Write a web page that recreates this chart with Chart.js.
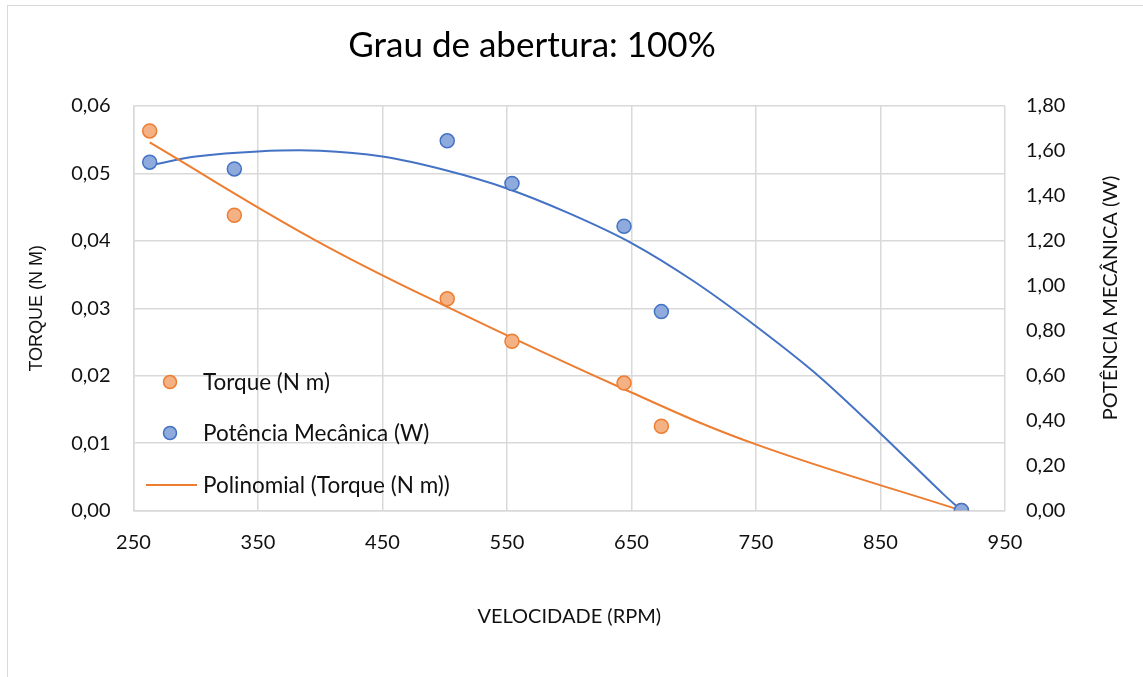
<!DOCTYPE html>
<html>
<head>
<meta charset="utf-8">
<script src="https://cdn.jsdelivr.net/npm/chart.js@4.4.1/dist/chart.umd.min.js"></script>
<style>
  html, body { margin: 0; padding: 0; background: #fff; overflow: hidden; }
  #frame { position: absolute; left: 7px; top: 5px; width: 1200px; height: 700px; border: 1px solid #d9d9d9; }
  #wrap { position: absolute; left: 0; top: 0; width: 1143px; height: 677px; }
</style>
</head>
<body>
<div id="frame"></div>
<div id="wrap"><canvas id="chart" width="1143" height="677"></canvas></div>
<script>
// measured points
const velocity = [263, 331, 502, 554, 644, 674, 915];
const torque = [0.0563, 0.0438, 0.0314, 0.0251, 0.0189, 0.0125, 0];
const power = [1.55, 1.52, 1.645, 1.455, 1.265, 0.885, 0];

// trend lines
const torqueFitX = [263, 394, 502, 650, 750, 915];
const torqueFitY = [0.0546, 0.0403, 0.0302, 0.0175, 0.0098, 0];
const powerFitX = [263, 300, 350, 400, 450, 500, 550, 600, 650, 700, 750, 800, 850, 900, 915];
const powerFitY = [1.536, 1.575, 1.598, 1.601, 1.575, 1.515, 1.433, 1.322, 1.19, 1.02, 0.82, 0.60, 0.343, 0.075, 0];

const leftTicks = [0, 0.01, 0.02, 0.03, 0.04, 0.05, 0.06];
const rightTicks = [0, 0.2, 0.4, 0.6, 0.8, 1.0, 1.2, 1.4, 1.6, 1.8];

const chartTitle = 'Grau de abertura: 100%';
const rightTitle = 'POTÊNCIA MECÂNICA (W)';

const FONT = "Lato, 'Open Sans', sans-serif";
const comma = v => Number(v).toFixed(2).replace('.', ',');
const pts = (xs, ys) => xs.map((x, i) => ({ x: x, y: ys[i] }));

// title, legend inside the plot, right axis title (reads bottom to top)
const extras = {
    id: 'extras',
    afterDraw(chart) {
        const ctx = chart.ctx;
        const ds = chart.data.datasets;
        ctx.save();
        ctx.fillStyle = '#000';
        ctx.textAlign = 'center';
        ctx.textBaseline = 'middle';
        ctx.font = "35px " + FONT;
        ctx.fillText(chartTitle, 532, 46);

        ctx.font = "22.5px " + FONT;
        const items = [
            { d: ds[0], y: 382, type: 'dot' },
            { d: ds[1], y: 433, type: 'dot' },
            { d: ds[2], y: 485, type: 'line' }
        ];
        items.forEach(it => {
            if (it.type === 'dot') {
                ctx.beginPath();
                ctx.arc(170, it.y, 6.5, 0, Math.PI * 2);
                ctx.fillStyle = it.d.backgroundColor;
                ctx.fill();
                ctx.lineWidth = 1.5;
                ctx.strokeStyle = it.d.borderColor;
                ctx.stroke();
            } else {
                ctx.beginPath();
                ctx.moveTo(146, it.y);
                ctx.lineTo(197, it.y);
                ctx.lineWidth = 2;
                ctx.strokeStyle = it.d.borderColor;
                ctx.stroke();
            }
            ctx.fillStyle = '#111';
            ctx.textAlign = 'left';
            ctx.fillText(it.d.label, 203, it.y + 1);
        });

        ctx.translate(1111, 298);
        ctx.rotate(-Math.PI / 2);
        ctx.textAlign = 'center';
        ctx.font = "20px " + FONT;
        ctx.fillText(rightTitle, 0, 0);
        ctx.restore();
    }
};

new Chart(document.getElementById('chart'), {
    type: 'scatter',
    data: {
        datasets: [
            {
                label: 'Torque (N m)',
                data: pts(velocity, torque),
                yAxisID: 'y',
                backgroundColor: '#F4B183',
                borderColor: '#ED7D31',
                borderWidth: 1.5,
                pointRadius: 7,
                order: 1
            },
            {
                label: 'Potência Mecânica (W)',
                data: pts(velocity, power),
                yAxisID: 'y1',
                backgroundColor: '#8FAADC',
                borderColor: '#4472C4',
                borderWidth: 1.5,
                pointRadius: 7,
                order: 0
            },
            {
                label: 'Polinomial (Torque (N m))',
                type: 'line',
                data: pts(torqueFitX, torqueFitY),
                yAxisID: 'y',
                borderColor: '#ED7D31',
                backgroundColor: '#ED7D31',
                borderWidth: 2,
                pointRadius: 0,
                tension: 0.4,
                fill: false,
                order: 2
            },
            {
                label: 'Polinomial (Potência Mecânica (W))',
                type: 'line',
                data: pts(powerFitX, powerFitY),
                yAxisID: 'y1',
                borderColor: '#4472C4',
                backgroundColor: '#4472C4',
                borderWidth: 2,
                pointRadius: 0,
                tension: 0.3,
                fill: false,
                order: 3
            }
        ]
    },
    options: {
        responsive: false,
        animation: false,
        layout: { padding: { top: 106, left: 0, right: 0, bottom: 0 } },
        plugins: {
            legend: { display: false },
            tooltip: { enabled: false },
            title: { display: false }
        },
        scales: {
            x: {
                type: 'linear',
                min: 250,
                max: 950,
                afterFit: s => { s.height = 166.5; },
                ticks: { stepSize: 100, color: '#111', padding: 20, font: { family: FONT, size: 20 } },
                grid: { color: '#d9d9d9', lineWidth: 1.5, drawTicks: false },
                border: { color: '#d9d9d9', width: 1.5 },
                title: {
                    display: true,
                    text: 'VELOCIDADE (RPM)',
                    color: '#111',
                    font: { family: FONT, size: 20 },
                    padding: { top: 0, bottom: 48 }
                }
            },
            y: {
                position: 'left',
                min: 0,
                max: 0.06,
                afterFit: s => { s.width = 133.5; },
                afterBuildTicks: s => { s.ticks = leftTicks.map(v => ({ value: v })); },
                ticks: { color: '#111', padding: 23, font: { family: FONT, size: 20 }, callback: v => comma(v) },
                grid: { color: '#d9d9d9', lineWidth: 1.5, drawTicks: false },
                border: { color: '#d9d9d9', width: 1.5 },
                title: {
                    display: true,
                    text: 'TORQUE (N M)',
                    color: '#111',
                    font: { family: "'Liberation Sans', Arial, sans-serif", size: 18 },
                    padding: { top: 26, bottom: 0 }
                }
            },
            y1: {
                position: 'right',
                min: 0,
                max: 1.8,
                afterFit: s => { s.width = 138; },
                afterBuildTicks: s => { s.ticks = rightTicks.map(v => ({ value: v })); },
                ticks: { color: '#111', padding: 21, font: { family: FONT, size: 20 }, callback: v => comma(v) },
                grid: { display: false, drawTicks: false },
                border: { display: false }
            }
        }
    },
    plugins: [extras]
});
</script>
</body>
</html>
